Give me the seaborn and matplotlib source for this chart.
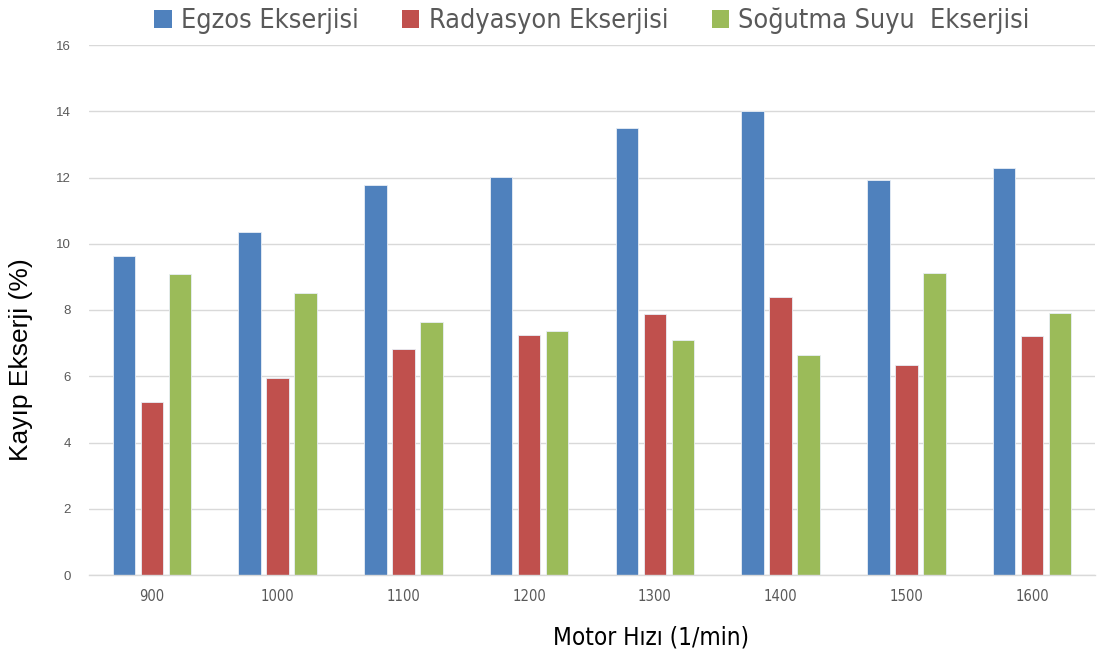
import matplotlib
matplotlib.use("Agg")
import matplotlib.pyplot as plt
from matplotlib import font_manager
import seaborn as sns
import pandas as pd
from matplotlib.patches import Patch

speeds = ["900", "1000", "1100", "1200", "1300", "1400", "1500", "1600"]
egzos = [9.63, 10.36, 11.78, 12.02, 13.48, 14.02, 11.91, 12.29]
radyasyon = [5.21, 5.95, 6.82, 7.25, 7.87, 8.40, 6.33, 7.22]
sogutma = [9.10, 8.52, 7.64, 7.37, 7.09, 6.63, 9.11, 7.91]
series_names = ["Egzos Ekserjisi", "Radyasyon Ekserjisi", "Soğutma Suyu  Ekserjisi"]
colors = ["#4F81BD", "#C0504D", "#9BBB59"]

rows = []
for name, vals in zip(series_names, [egzos, radyasyon, sogutma]):
    for s, v in zip(speeds, vals):
        rows.append({"speed": s, "value": v, "series": name})
df = pd.DataFrame(rows)

sns.set_style("white")
plt.rcParams["font.family"] = ["DejaVu Sans"]

# pick a condensed font if one exists
names = {f.name for f in font_manager.fontManager.ttflist}
cond_stretch = {(f.name, f.stretch) for f in font_manager.fontManager.ttflist}
if "Liberation Sans Narrow" in names:
    narrow = dict(family=["Liberation Sans Narrow", "DejaVu Sans"], stretch="normal")
    nscale = 1.0
elif ("DejaVu Sans", "condensed") in cond_stretch or ("DejaVu Sans", 'semi-condensed') in cond_stretch:
    narrow = dict(family=["DejaVu Sans"], stretch="condensed")
    nscale = 0.97
elif "Roboto Condensed" in names:
    narrow = dict(family=["Roboto Condensed", "DejaVu Sans"], stretch="normal")
    nscale = 1.0
else:
    narrow = dict(family=["DejaVu Sans"], stretch="normal")
    nscale = 0.87
body = ["Liberation Sans", "DejaVu Sans"]

fig = plt.figure(figsize=(10.97, 6.52), dpi=100)
ax = fig.add_axes([89 / 1097, 77 / 652, (1095 - 89) / 1097, 530 / 652])

sns.barplot(data=df, x="speed", y="value", hue="series", order=speeds,
            hue_order=series_names, palette=colors, width=0.667, gap=0.2,
            edgecolor="#e8eef6", linewidth=0.6, ax=ax, legend=False, saturation=1)

ax.set_ylim(0, 16)
ax.set_yticks(range(0, 17, 2))
ax.yaxis.grid(True, color="#D9D9D9", linewidth=1.0)
ax.set_axisbelow(True)
for sp in ["top", "right", "left"]:
    ax.spines[sp].set_visible(False)
ax.spines["bottom"].set_color("#D9D9D9")
ax.spines["bottom"].set_linewidth(1.0)
ax.tick_params(axis="both", length=0)
ax.tick_params(axis="y", labelsize=9.5, labelcolor="#595959", pad=13)
ax.tick_params(axis="x", labelsize=11 * nscale, labelcolor="#595959", pad=10)
for lab in ax.get_yticklabels():
    lab.set_family(body)
for lab in ax.get_xticklabels():
    lab.set_family(narrow["family"])
    lab.set_stretch(narrow["stretch"])

ax.set_xlabel("Motor Hızı (1/min)", fontsize=18 * nscale, family=narrow["family"],
              stretch=narrow["stretch"], color="black")
ax.xaxis.set_label_coords((651 - 89) / (1095 - 89), -0.095)
ax.set_ylabel("Kayıp Ekserji (%)", fontsize=19, family=body, color="black")
ax.yaxis.set_label_coords(-0.0557, (575 - 360) / 530)

handles = [Patch(facecolor=c, edgecolor="none") for c in colors]
fig.legend(handles, series_names, loc="center", bbox_to_anchor=(592 / 1097, 1 - 21 / 652),
           ncol=3, frameon=False,
           prop={"family": narrow["family"], "stretch": narrow["stretch"], "size": 20 * nscale},
           labelcolor="#595959", handlelength=0.65, handleheight=0.65,
           handletextpad=0.35, columnspacing=1.6)

fig.savefig("out.png", dpi=100, facecolor="white")
